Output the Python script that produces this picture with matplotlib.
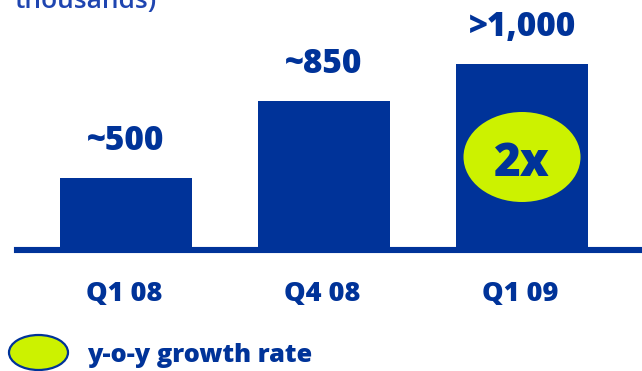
import matplotlib.pyplot as plt
import matplotlib.transforms as mtransforms
from matplotlib.patches import Ellipse

# Data (in thousands)
categories = ["Q1 08", "Q4 08", "Q1 09"]
values = [500, 850, 1020]
value_labels = ["~500", "~850", ">1,000"]
growth_index = 2
growth_label = "2x"
legend_label = "y-o-y growth rate"
title_tail = "thousands)"

BLUE = "#003399"
LIME = "#CCF200"
FONT = "Open Sans"

plt.rcParams["font.family"] = [FONT, "DejaVu Sans"]

fig = plt.figure(figsize=(6.42, 3.71), dpi=100)
ax = fig.add_axes([17 / 642, 121 / 371, 625 / 642, 250 / 371])

x = list(range(len(categories)))
ax.bar(x, values, width=0.667, color=BLUE, zorder=1)

ax.set_xlim(-0.5505, 2.606)
ax.set_ylim(173, 1309)

# axis styling: only a thick baseline
for side in ["top", "right", "left"]:
    ax.spines[side].set_visible(False)
ax.spines["bottom"].set_color(BLUE)
ax.spines["bottom"].set_linewidth(4.4)
ax.spines["bottom"].set_zorder(3)
ax.set_xticks([])
ax.set_yticks([])

# value labels above bars
for xi, v, lab in zip(x, values, value_labels):
    ax.annotate(lab, (xi, v), xytext=(0, 20), textcoords="offset points",
                ha="center", va="baseline", fontsize=24, fontweight="heavy",
                color=BLUE)

# category labels under the baseline
trans = mtransforms.blended_transform_factory(ax.transData, ax.transAxes)
for xi, cat in zip(x, categories):
    ax.text(xi - 0.01, -0.204, cat, transform=trans, ha="center",
            va="baseline", fontsize=19.5, fontweight="heavy", color=BLUE,
            clip_on=False)

# growth badge on the last bar
badge = Ellipse((growth_index, 0.372), width=0.591, height=0.36,
                transform=trans, facecolor=LIME, edgecolor="none", zorder=4)
ax.add_patch(badge)
ax.annotate(growth_label, (growth_index, 0.372), xycoords=trans,
            xytext=(0, -13.7), textcoords="offset points",
            ha="center", va="baseline", fontsize=33, fontweight="heavy",
            color=BLUE, zorder=5)

# legend
fig.add_artist(Ellipse((38.5 / 642, 18.5 / 371), width=59 / 642,
                       height=35 / 371, transform=fig.transFigure,
                       facecolor=LIME, edgecolor=BLUE, linewidth=1.6))
fig.text(87 / 642, 9 / 371, legend_label, ha="left", va="baseline",
         fontsize=18.3, fontweight="heavy", color=BLUE)

# cut-off subtitle at top
fig.text(157 / 642, 363 / 371, title_tail, ha="right", va="baseline",
         fontsize=19, fontweight="semibold", color="#1f45b0")

fig.savefig("out.png", dpi=100)
